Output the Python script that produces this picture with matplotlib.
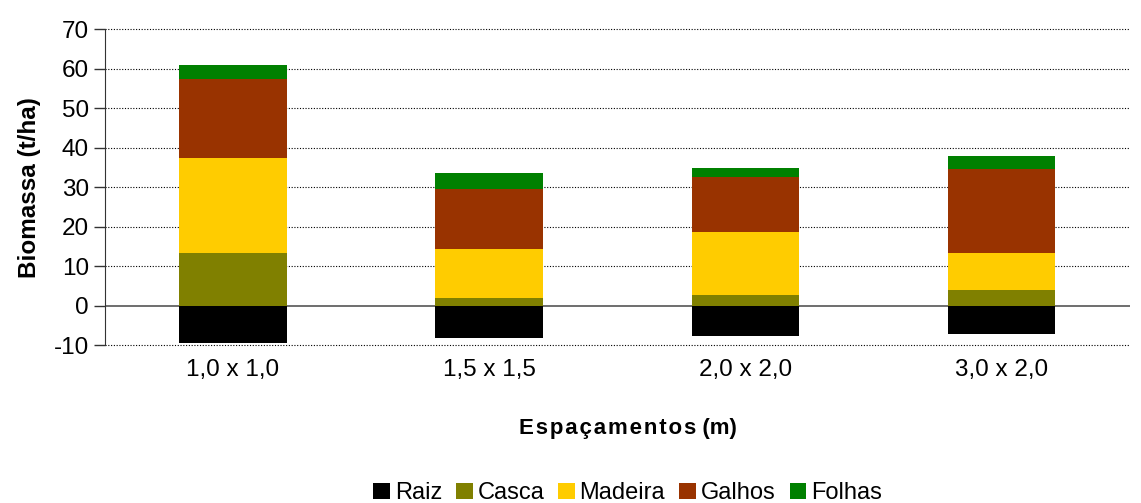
import numpy as np
import matplotlib.pyplot as plt

plt.rcParams['font.family'] = ['Liberation Sans', 'DejaVu Sans']
plt.rcParams['axes.unicode_minus'] = False

espacamentos = ['1,0 x 1,0', '1,5 x 1,5', '2,0 x 2,0', '3,0 x 2,0']
raiz = [-9.6, -8.1, -7.6, -7.1]
casca = [13.4, 2.0, 2.8, 4.0]
madeira = [24.1, 12.4, 15.9, 9.4]
galhos = [20.0, 15.2, 13.8, 21.1]
folhas = [3.5, 4.1, 2.4, 3.5]

fig = plt.figure(figsize=(11.41, 5.03), dpi=100)
ax = fig.add_axes([0.092, 0.314, 0.898, 0.628])

x = np.arange(len(espacamentos))
w = 0.42

ax.bar(x, raiz, w, color='#000000', label='Raiz', zorder=3)
base = np.zeros(len(x))
for vals, cor, nome in [(casca, '#808000', 'Casca'),
                        (madeira, '#FFCC00', 'Madeira'),
                        (galhos, '#993300', 'Galhos'),
                        (folhas, '#008000', 'Folhas')]:
    ax.bar(x, vals, w, bottom=base, color=cor, label=nome, zorder=3)
    base = base + np.array(vals)

ax.set_ylim(-10, 70)
ax.set_xlim(-0.5, 3.5)
ax.set_yticks(range(-10, 71, 10))
# linhas de grade pontilhadas (inclusive a de -10, na borda)
for yv in range(-10, 71, 10):
    if yv != 0:
        ax.axhline(yv, linestyle=(0, (1, 1.5)), color='black', linewidth=0.8,
                   zorder=1, clip_on=False)
ax.axhline(0, color='#555555', linewidth=1.2, zorder=2)
for s in ['top', 'right', 'bottom']:
    ax.spines[s].set_visible(False)
ax.spines['left'].set_color('#333333')
ax.tick_params(axis='y', labelsize=17.5, length=8, direction='out', width=1, color='#333333')
ax.tick_params(axis='x', labelsize=17.5, length=0, pad=10)
ax.set_xticks(x)
ax.set_xticklabels(espacamentos)

ax.set_ylabel('Biomassa (t/ha)', fontsize=17.5, fontweight='bold', labelpad=9)
ax.set_xlabel('E s p a ç a m e n t o s  (m)'.replace(' ', '\u200a').replace('\u200a\u200a', ' '),
              fontsize=16, fontweight='bold')
ax.xaxis.set_label_coords(0.51, -0.23)

h, l = ax.get_legend_handles_labels()
fig.legend(h, l, loc='lower center', bbox_to_anchor=(0.55, -0.045), ncol=5, frameon=False,
           fontsize=17, handlelength=0.7, handleheight=0.7, handletextpad=0.2,
           columnspacing=0.6)

fig.savefig('out.png', dpi=100)
